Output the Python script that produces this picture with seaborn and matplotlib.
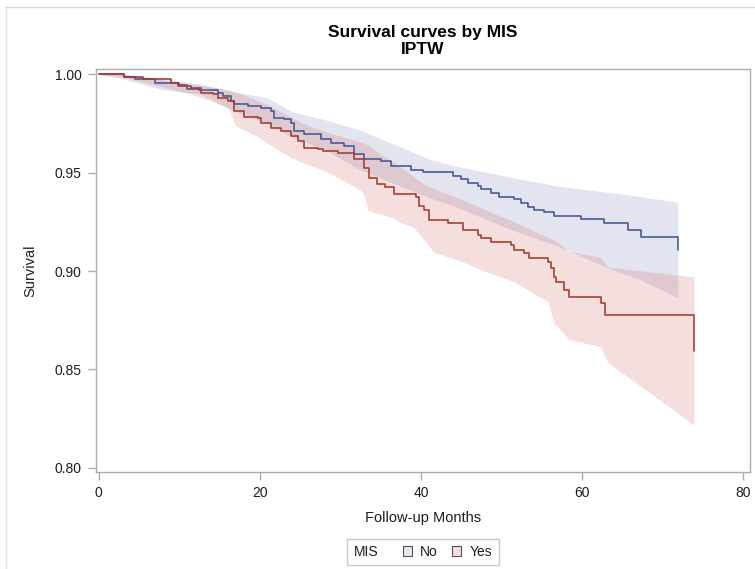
import numpy as np
import pandas as pd
import matplotlib
matplotlib.use("Agg")
import matplotlib.pyplot as plt
import seaborn as sns
from matplotlib.patches import Patch
from matplotlib.lines import Line2D
from matplotlib.colors import to_rgba
from matplotlib.offsetbox import HPacker

# ---------------- data ----------------
groups = ["No", "Yes"]

no_time = [0, 3.1, 4.5, 7.0, 10.0, 11.0, 12.5, 14.8, 15.4, 16.4, 16.8, 18.5, 20.1, 21.4, 21.7,
           23.0, 23.9, 24.2, 25.5, 27.6, 28.8, 30.4, 31.7, 32.9, 35.0, 36.3, 38.8, 40.3, 44.0,
           45.0, 45.8, 47.1, 47.5, 48.7, 49.7, 51.6, 52.4, 53.3, 54.0, 55.3, 56.5, 59.9, 62.7,
           65.7, 67.3, 71.9]
no_surv = [1.000, 0.9985, 0.9975, 0.9956, 0.9944, 0.9927, 0.9919, 0.9904, 0.9889, 0.9864,
           0.9848, 0.9838, 0.9828, 0.9813, 0.9778, 0.9773, 0.9753, 0.9712, 0.9697, 0.9672,
           0.9652, 0.9636, 0.9596, 0.9571, 0.9561, 0.9535, 0.9515, 0.9505, 0.9485, 0.9470,
           0.9449, 0.9434, 0.9419, 0.9399, 0.9374, 0.9364, 0.9348, 0.9323, 0.9308, 0.9298,
           0.9278, 0.9263, 0.9242, 0.9207, 0.9172, 0.9106]

yes_time = [0, 3.2, 5.5, 9.0, 9.8, 11.4, 12.7, 14.2, 14.8, 16.0, 16.8, 18.0, 19.8, 20.1, 21.4,
            22.6, 23.9, 24.7, 25.5, 27.2, 27.9, 29.7, 31.7, 32.9, 33.5, 34.6, 35.5, 36.6, 39.4,
            39.8, 40.4, 41.0, 43.4, 45.2, 47.1, 47.5, 48.7, 51.2, 51.6, 52.8, 53.4, 55.8, 56.1,
            56.5, 56.8, 57.8, 58.4, 62.3, 62.9, 73.9]
yes_surv = [1.000, 0.9987, 0.9975, 0.9955, 0.9939, 0.9929, 0.9904, 0.9899, 0.9879, 0.9864,
            0.9813, 0.9783, 0.9778, 0.9753, 0.9727, 0.9712, 0.9687, 0.9662, 0.9626, 0.9621,
            0.9611, 0.9601, 0.9571, 0.9525, 0.9475, 0.9444, 0.9429, 0.9394, 0.9374, 0.9333,
            0.9308, 0.9258, 0.9242, 0.9207, 0.9182, 0.9167, 0.9146, 0.9131, 0.9106, 0.9091,
            0.9066, 0.9045, 0.9015, 0.8970, 0.8944, 0.8904, 0.8869, 0.8838, 0.8778, 0.8591]

no_band_time = [0, 3.1, 7.7, 12.7, 17.0, 21.0, 24.0, 28.0, 32.2, 36.3, 41.0, 44.1, 50.8, 53.3,
                57.4, 63.2, 67.0, 71.9]
no_band_upper = [1.0, 1.0, 0.998, 0.995, 0.991, 0.988, 0.981, 0.977, 0.972, 0.965, 0.957,
                 0.9535, 0.948, 0.946, 0.943, 0.940, 0.938, 0.935]
no_band_lower = [1.0, 0.9975, 0.9924, 0.990, 0.981, 0.975, 0.968, 0.962, 0.952, 0.945, 0.9374,
                 0.933, 0.9217, 0.918, 0.9121, 0.9015, 0.896, 0.8864]

yes_band_time = [0, 3.1, 11.4, 13.3, 16.1, 17.0, 19.5, 21.7, 23.9, 26.0, 28.0, 32.2, 32.9, 33.4,
                 36.3, 37.5, 39.1, 40.4, 41.6, 45.3, 47.5, 51.6, 55.8, 56.5, 58.4, 62.3, 63.2, 73.9]
yes_band_upper = [1.0, 1.0, 0.995, 0.994, 0.992, 0.991, 0.987, 0.983, 0.978, 0.974, 0.971, 0.966,
                  0.965, 0.964, 0.956, 0.953, 0.948, 0.944, 0.942, 0.936, 0.932, 0.925, 0.917,
                  0.916, 0.910, 0.907, 0.902, 0.897]
yes_band_lower = [1.0, 0.9985, 0.990, 0.9874, 0.9828, 0.9737, 0.9687, 0.963, 0.9576, 0.954, 0.951,
                  0.942, 0.9394, 0.9308, 0.9273, 0.9247, 0.9222, 0.9157, 0.9096, 0.9045, 0.9005,
                  0.8944, 0.8843, 0.8737, 0.8652, 0.8616, 0.8535, 0.8217]

x_ticks = [0, 20, 40, 60, 80]
y_ticks = [0.80, 0.85, 0.90, 0.95, 1.00]

# ---------------- style ----------------
sns.set_theme(style="white")
plt.rcParams["font.family"] = ["Liberation Sans", "DejaVu Sans"]

line_colors = {"No": "#445694", "Yes": "#A23A2E"}
fill_colors = {"No": "#6F7EB3", "Yes": "#D05B5B"}
axis_gray = "#ABABAB"
text_col = "#1E1E1E"

W, H = 755, 569
fig = plt.figure(figsize=(W / 100, H / 100), dpi=100)
fig.patch.set_facecolor("white")

# axes placement in pixels
L, R, T, B = 95.5, 750.0, 69.0, 471.7
ax = fig.add_axes([L / W, 1 - B / H, (R - L) / W, (B - T) / H])

# bands
ax.fill_between(no_band_time, no_band_lower, no_band_upper, color=fill_colors["No"],
                alpha=0.2, linewidth=0)
ax.fill_between(yes_band_time, yes_band_lower, yes_band_upper, color=fill_colors["Yes"],
                alpha=0.2, linewidth=0)

# survival step curves
df = pd.concat([
    pd.DataFrame({"Months": no_time, "Survival": no_surv, "MIS": "No"}),
    pd.DataFrame({"Months": yes_time, "Survival": yes_surv, "MIS": "Yes"}),
], ignore_index=True)
sns.lineplot(data=df, x="Months", y="Survival", hue="MIS", palette=line_colors,
             drawstyle="steps-post", estimator=None, sort=False, legend=False,
             linewidth=1.15, ax=ax)

ax.set_xlim(-0.4, 80.85)
ax.set_ylim(0.798, 1.0027)
ax.set_xticks(x_ticks)
ax.set_xticklabels([str(v) for v in x_ticks])
ax.set_yticks(y_ticks)
ax.set_yticklabels([f"{v:.2f}" for v in y_ticks])

for s in ax.spines.values():
    s.set_visible(True)
    s.set_color(axis_gray)
    s.set_linewidth(1.0)
ax.tick_params(axis="both", which="major", direction="out", length=5.5, width=1.0,
               color=axis_gray, labelsize=10, labelcolor=text_col, pad=4.5,
               bottom=True, left=True, top=False, right=False)

ax.set_xlabel("Follow-up Months", fontsize=10.5, color=text_col, va="center")
ax.xaxis.set_label_coords(0.5, -(518 - B) / (B - T))
ax.set_ylabel("Survival", fontsize=10.5, color=text_col, va="center")
ax.yaxis.set_label_coords(-(L - 30) / (R - L), 0.5)

# title
cx = (L + R) / 2 / W
fig.text(cx, 1 - 32 / H, "Survival curves by MIS", ha="center", va="center",
         fontsize=12.5, fontweight="bold", color="black")
fig.text(cx, 1 - 49 / H, "IPTW", ha="center", va="center",
         fontsize=12.5, fontweight="bold", color="black")

# legend (title placed inline, to the left of the entries)
handles = [Patch(facecolor=to_rgba(fill_colors[g], 0.2), edgecolor="#505050", linewidth=0.8)
           for g in groups]
leg = ax.legend(handles, groups, title="MIS", ncol=2, loc="center",
                bbox_to_anchor=(423 / W, 1 - 552 / H), bbox_transform=fig.transFigure,
                fontsize=10, title_fontsize=10, handlelength=0.65, handleheight=0.65,
                handletextpad=0.6, columnspacing=1.05, borderpad=0.5, frameon=True,
                fancybox=False, edgecolor="#C8C8C8", framealpha=1.0, borderaxespad=0)
leg.get_frame().set_linewidth(1.0)
for t in leg.get_texts():
    t.set_color(text_col)
leg.get_title().set_color(text_col)
try:
    fs = leg._fontsize
    box = HPacker(pad=0.45 * fs, sep=1.75 * fs, align="center",
                  children=[leg._legend_title_box, leg._legend_handle_box])
    box.set_figure(fig)
    box.axes = ax
    box.set_offset(leg._findoffset)
    leg._legend_box = box
except Exception:
    pass

# outer light border of the graph
fig.add_artist(Line2D([5 / W, 1.0], [1 - 7 / H, 1 - 7 / H], transform=fig.transFigure,
                      color="#D8D8D8", linewidth=1.0))
fig.add_artist(Line2D([6 / W, 6 / W], [0.0, 1 - 7 / H], transform=fig.transFigure,
                      color="#E4E4E4", linewidth=1.0))

fig.savefig("out.png", dpi=100, facecolor="white")
